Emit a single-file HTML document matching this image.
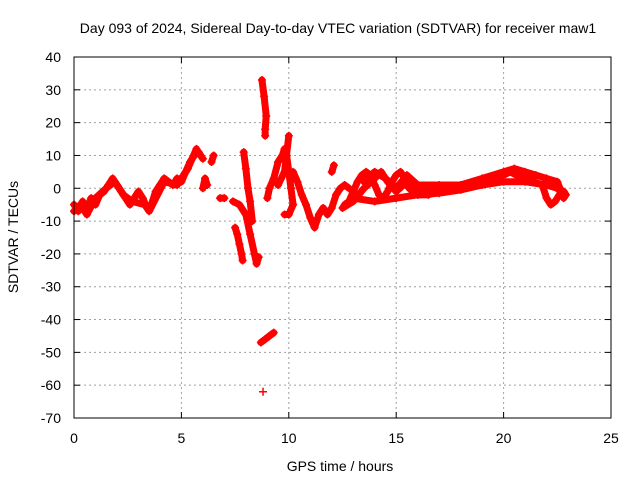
<!DOCTYPE html>
<html><head><meta charset="utf-8"><style>
body{margin:0;background:#fff}
svg{display:block;font-family:"Liberation Sans",sans-serif}
</style></head><body>
<svg id="chart" width="640" height="480">
<rect width="640" height="480" fill="#fff"/>
<text x="338" y="33" font-size="14" text-anchor="middle">Day 093 of 2024, Sidereal Day-to-day VTEC variation (SDTVAR) for receiver maw1</text>
<g id="grid"></g><g id="marks"></g>
<rect x="74" y="57" width="537" height="361" fill="none" stroke="#000" stroke-width="1"/>
<text x="340" y="471" font-size="14" text-anchor="middle">GPS time / hours</text>
<text transform="translate(18,237) rotate(-90)" font-size="14" text-anchor="middle">SDTVAR / TECUs</text>
</svg>
<script>
const xTicks=[0,5,10,15,20,25];
const yTicks=[40,30,20,10,0,-10,-20,-30,-40,-50,-60,-70];
const segA=[[0,-5],[0.2,-7],[0.4,-4],[0.6,-6],[0.8,-3],[1.0,-5],[1.2,-2],[1.4,-1],[1.6,1],[1.8,3],[2.0,1],[2.2,-1],[2.4,-3],[2.6,-5],[2.8,-3],[3.0,-1],[3.2,-3],[3.4,-6],[3.6,-5],[3.8,-1],[4.0,1],[4.2,3],[4.4,2],[4.6,1],[4.8,3],[5.0,2],[5.2,5],[5.4,8],[5.6,10],[5.8,11],[6.0,9]];
const segA2=[[0,-7],[0.3,-5],[0.6,-8],[1.0,-3],[1.5,0],[1.9,2],[2.3,-2],[2.7,-4],[3.3,-5],[3.5,-7],[4.2,2],[4.8,1],[5.3,6],[5.7,12]];
const segB=[[6.0,0],[6.1,3],[6.2,1]];
const segC=[[6.4,8],[6.5,10]];
const segD=[[6.8,-3],[7.0,-3]];
const segE=[[7.5,-12],[7.6,-14],[7.7,-17],[7.8,-20],[7.85,-22]];
const segF=[[7.4,-4],[7.7,-5],[8.0,-8],[8.2,-14],[8.4,-20],[8.5,-23],[8.6,-21]];
const segG=[[7.9,11],[8.0,6],[8.1,0],[8.2,-4],[8.3,-10]];
const segH=[[8.75,33],[8.85,28],[8.95,22],[8.9,18],[8.9,16]];
const segI=[[8.7,-47],[8.9,-46],[9.1,-45],[9.3,-44]];
const segJ=[[8.8,-62]];
const segK=[[9.0,-3],[9.1,0],[9.3,3],[9.5,8],[9.7,10],[9.8,12],[9.9,10],[10.0,5],[10.1,0],[10.2,-5],[10.0,-8],[9.8,-8]];
const segL=[[9.5,1],[9.8,5],[10.0,16]];
const segM=[[10.2,5],[10.4,2],[10.6,-2],[10.8,-5],[11.0,-9],[11.2,-12],[11.4,-8],[11.6,-6],[11.8,-8],[12.0,-6],[12.2,-2],[12.4,0],[12.6,1],[12.8,0]];
const segN=[[12.0,5],[12.1,7]];
const segO=[[12.6,-5],[12.8,-4],[13.0,-1],[13.2,2],[13.4,4],[13.6,5],[13.8,4],[14.0,1],[14.2,-2],[14.4,-3],[14.6,-1],[14.8,2],[15.0,4],[15.2,5],[15.4,3],[15.6,0],[15.8,-1],[16.0,-2],[16.5,-2],[17,-1],[17.5,0],[18,0],[18.5,1],[19,2],[19.5,3],[20,4],[20.3,5],[20.6,4],[21,3],[21.4,2],[21.8,1],[22.0,-3],[22.2,-5],[22.4,-4],[22.6,-2],[22.8,-1],[22.9,-2]];
const segP=[[12.5,-6],[13.0,-4],[13.5,0],[14.0,3],[14.3,5],[14.6,2],[15.0,-1],[15.5,2],[15.8,0],[16.2,-1],[17,0]];
const segQ=[[13,-3],[14,-4],[15,-3],[16,-2],[17,-1.5],[18,-0.5],[19,1],[20,2],[21,2],[22,1],[22.5,0],[22.8,-2]];
const segR=[[13.5,2],[14,5],[14.5,3],[15,0],[15.5,4],[16,1],[17,1],[18,1],[19,3],[20,5],[20.5,6],[21,5],[21.5,4],[22,3],[22.5,2],[22.8,-3]];
const segments=[segA,segA2,segB,segC,segD,segE,segF,segG,segH,segI,segJ,segK,segL,segM,segN,segO,segP,segQ,segR];

const X=t=>74+t*537/25;
const Y=v=>57+(40-v)*361/110;
const NS="http://www.w3.org/2000/svg";
const svg=document.getElementById('chart');
const grid=document.getElementById('grid'),marks=document.getElementById('marks');
function mk(tag,attrs,parent){const e=document.createElementNS(NS,tag);for(const k in attrs)e.setAttribute(k,attrs[k]);parent.appendChild(e);return e;}
xTicks.forEach(t=>{
  const g=mk('line',{x1:X(t),x2:X(t),y1:57,y2:418,stroke:'#a0a0a0','stroke-dasharray':'2,3'},grid);
  
  
  mk('line',{x1:X(t),x2:X(t),y1:418,y2:412,stroke:'#000'},grid);
  mk('line',{x1:X(t),x2:X(t),y1:57,y2:63,stroke:'#000'},grid);
  const l=mk('text',{x:X(t),y:443,'font-size':14,'text-anchor':'middle'},svg);
  l.textContent=t;
  
  
});
yTicks.forEach(v=>{
  const g=mk('line',{x1:74,x2:611,y1:Y(v),y2:Y(v),stroke:'#a0a0a0','stroke-dasharray':'2,3'},grid);
  
  
  mk('line',{x1:74,x2:80,y1:Y(v),y2:Y(v),stroke:'#000'},grid);
  mk('line',{x1:605,x2:611,y1:Y(v),y2:Y(v),stroke:'#000'},grid);
  const l=mk('text',{x:61,y:Y(v)+5,'font-size':14,'text-anchor':'end'},svg);
  l.textContent=v;
  
  
});
segments.forEach(seg=>{
  if(seg.length>1){
    const p=mk('polyline',{points:seg.map(d=>X(d[0])+','+Y(d[1])).join(' '),fill:'none',stroke:'#ff0000','stroke-width':7,'stroke-linejoin':'round','stroke-linecap':'round'},marks);
    
    
  }
  seg.forEach(d=>{
    const x=X(d[0]),y=Y(d[1]);
    const m=mk('path',{d:`M${x-4},${y}H${x+4}M${x},${y-4}V${y+4}`,stroke:'#ff0000','stroke-width':1.5},marks);
    
    
  });
});
</script>
</body></html>
